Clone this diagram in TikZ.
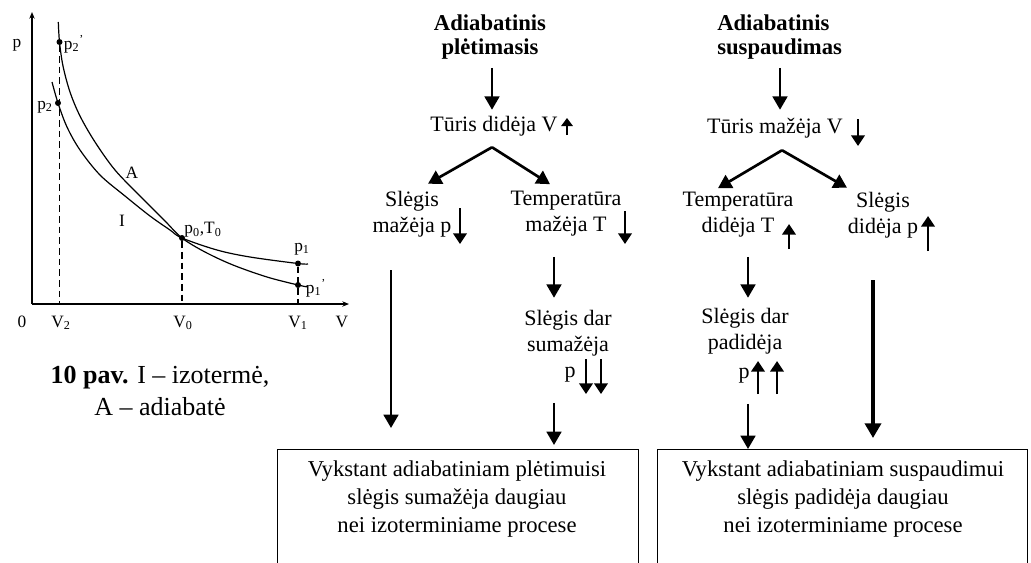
\documentclass[tikz,border=0pt]{standalone}
\usepackage{fontspec}
\setmainfont{Liberation Serif}
\usetikzlibrary{arrows.meta,calc}
\begin{document}
\begin{tikzpicture}[x=0.75pt,y=-0.75pt,
  flow/.style={line width=2pt,-{Triangle[length=10pt,width=11pt]}},
  flowthick/.style={line width=2.6pt,-{Triangle[length=11pt,width=12pt]}},
  mini/.style={line width=2pt,-{Triangle[length=8pt,width=10pt]}},
  minismall/.style={line width=1.8pt,-{Triangle[length=6pt,width=8.5pt]}},
  ftxt/.style={font=\fontsize{16.5}{19.5}\selectfont, inner sep=0pt},
  ttl/.style={font=\fontsize{17}{18.5}\selectfont\bfseries, inner sep=0pt},
  glab/.style={font=\fontsize{13}{15}\selectfont, inner sep=0pt},
  axisline/.style={line width=0.9pt,-{Stealth[length=5pt,width=4pt]}},
  curve/.style={line width=0.9pt},
  guide/.style={line width=0.9pt,dash pattern=on 5pt off 3pt},
  dot/.style={circle,fill,inner sep=0pt,minimum size=4.5pt},
  fbox/.style={draw,line width=1pt,inner sep=0pt}
]
\useasboundingbox (0,0) rectangle (1031,562);
\clip (0,0) rectangle (1031,562);

% ---------------- graph ----------------
\coordinate (O) at (32,304);
\coordinate (Ytop) at (32,12);
\coordinate (Xend) at (349,304);
\draw[axisline] (O) -- (Ytop);
\draw[axisline] (O) -- (Xend);

% adiabat A
\draw[curve] plot[smooth,tension=0.55] coordinates {(58.3,22) (59.5,42) (63,66) (70,92) (80,116) (95,142) (115,170) (140,196) (165,221) (182,238) (205,252) (233,265) (267,277) (298,285) (308,287)};
% isotherm I
\draw[curve] plot[smooth,tension=0.55] coordinates {(52,82) (58,103) (67,127) (80,150) (100,175) (125,196) (150,216) (170,230) (182,238) (217,250) (250,257) (298,263.5) (308,264)};

\node[dot] (P2a) at (59.5,42) {};
\node[dot] (P2) at (58,103) {};
\node[dot] (P0) at (182,238) {};
\node[dot] (P1) at (298,263.5) {};
\node[dot] (P1a) at (298,285) {};

\draw[guide] (P2a) -- (P2a |- O);
\draw[guide] (P0) -- (P0 |- O);
\draw[guide] (P1) -- (P1 |- O);

\node[glab] (lp) at (17,45) {p};
\node[glab] (l0) at (22,322) {0};
\node[glab] (lV2) at (61,323) {V\textsubscript{2}};
\node[glab] (lV0) at (183,323) {V\textsubscript{0}};
\node[glab] (lV1) at (298,323) {V\textsubscript{1}};
\node[glab] (lV) at (342,322) {V};
\node[glab] (lp2a) at (74,44) {p\textsubscript{2}\textsuperscript{'}};
\node[glab] (lp2) at (45,107) {p\textsubscript{2}};
\node[glab] (lA) at (132,173) {A};
\node[glab] (lI) at (122,221) {I};
\node[glab] (lp0) at (203,230) {p\textsubscript{0},T\textsubscript{0}};
\node[glab] (lp1) at (302,249) {p\textsubscript{1}};
\node[glab] (lp1a) at (316,288) {p\textsubscript{1}\textsuperscript{'}};

\node[font=\fontsize{19.5}{24}\selectfont, align=center, inner sep=0pt] (cap) at (160,391)
  {\textbf{10 pav.} I – izotermė,\\A – adiabatė};

% ---------------- left tree ----------------
\node[ttl, align=center] (titleL) at (490,37) {Adiabatinis\\plėtimasis};
\node[ftxt] (turisL) at (494,126) {Tūris didėja V};
\node[ftxt, align=center] (slegisL) at (412,214) {Slėgis\\mažėja p};
\node[ftxt, align=center] (tempL) at (566,214) {Temperatūra\\mažėja T};
\node[ftxt, align=center] (darL) at (568,333) {Slėgis dar\\sumažėja};
\node[ftxt] (darLp) at (570,375) {p};
\node[fbox, anchor=north west, minimum width=270.75pt, minimum height=120pt] (boxL) at (277,449) {};
\node[ftxt, align=center, font=\fontsize{17}{21}\selectfont] (boxLt) at (457,499)
  {Vykstant adiabatiniam plėtimuisi\\slėgis sumažėja daugiau\\nei izoterminiame procese};

\coordinate (apL) at ($(turisL.south -| 492,0)+(0,11)$);
\draw[flow] ($(titleL.south -| 492,0)+(0,8)$) -- ($(turisL.north -| 492,0)+(0,-6)$);
\draw[flow] (apL) -- ($(slegisL.north -| 428,0)+(0,-7)$);
\draw[flow] (apL) -- ($(tempL.north -| 550,0)+(0,-7)$);
\draw[flow] ($(slegisL.south -| 391,0)+(0,33)$) -- ($(boxL.north -| 391,0)+(0,-21)$);
\draw[flow] ($(tempL.south -| 554,0)+(0,20)$) -- ($(darL.north -| 554,0)+(0,-12)$);
\draw[flow] ($(darLp.south -| 554,0)+(0,20)$) -- ($(boxL.north -| 554,0)+(0,-4)$);

% inline arrows
\draw[minismall] (567,135) -- (567,118);
\draw[mini] (460,208) -- (460,244);
\draw[mini] (625,211) -- (625,244);
\draw[mini] (586,359) -- (586,394);
\draw[mini] (601,359) -- (601,394);

% ---------------- right tree ----------------
\node[ttl, align=left, anchor=west] (titleR) at (717,37) {Adiabatinis\\suspaudimas};
\node[ftxt] (turisR) at (775,128) {Tūris mažėja V};
\node[ftxt, align=center] (tempR) at (738,215) {Temperatūra\\didėja T};
\node[ftxt, align=center] (slegisR) at (883,215) {Slėgis\\didėja p};
\node[ftxt, align=center] (darR) at (745,331) {Slėgis dar\\padidėja};
\node[ftxt] (darRp) at (744,376) {p};
\node[fbox, anchor=north west, minimum width=277.5pt, minimum height=120pt] (boxR) at (657,449) {};
\node[ftxt, align=center, font=\fontsize{17}{21}\selectfont] (boxRt) at (843,499)
  {Vykstant adiabatiniam suspaudimui\\slėgis padidėja daugiau\\nei izoterminiame procese};

\coordinate (apR) at ($(turisR.south -| 782,0)+(0,12)$);
\draw[flow] ($(titleR.south -| 780,0)+(0,8)$) -- ($(turisR.north -| 780,0)+(0,-8)$);
\draw[flow] (apR) -- ($(tempR.north -| 718,0)+(0,-4)$);
\draw[flow] (apR) -- ($(slegisR.north -| 847,0)+(0,-4)$);
\draw[flow] ($(tempR.south -| 748,0)+(0,19)$) -- ($(darR.north -| 748,0)+(0,-10)$);
\draw[flow] ($(darRp.south -| 748,0)+(0,20)$) -- (boxR.north -| 748,0);
\draw[flowthick] ($(slegisR.south -| 873,0)+(0,42)$) -- ($(boxR.north -| 873,0)+(0,-11)$);

% inline arrows
\draw[mini] (858,119) -- (858,146);
\draw[mini] (789,249) -- (789,224);
\draw[mini] (928,251) -- (928,216);
\draw[mini] (758,394) -- (758,361);
\draw[mini] (777,394) -- (777,361);
\end{tikzpicture}
\end{document}
